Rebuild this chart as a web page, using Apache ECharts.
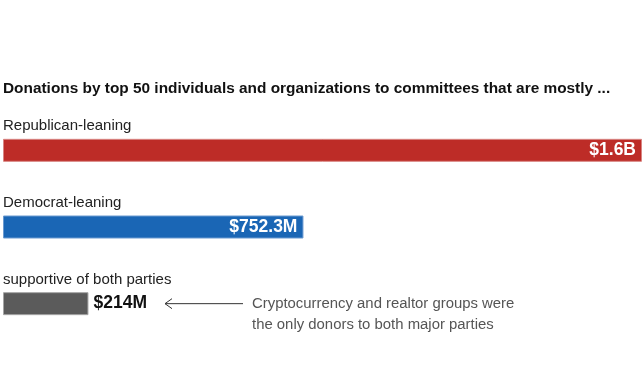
<!DOCTYPE html>
<html><head><meta charset="utf-8">
<script src="https://cdn.jsdelivr.net/npm/echarts@6/dist/echarts.min.js"></script>
<style>html,body{margin:0;padding:0;background:#fff}#c{width:644px;height:391px}</style>
</head><body><div id="c"></div>
<script>
const categories = ['Republican-leaning', 'Democrat-leaning', 'supportive of both parties'];
const values = [1600, 752.3, 214];
const valueLabels = ['$1.6B', '$752.3M', '$214M'];
const colors = ['#bd2c27', '#1a66b5', '#5b5b5b'];
const borderColors = ['#d98582', '#6b9ad0', '#a5a5a5'];
const title = 'Donations by top 50 individuals and organizations to committees that are mostly ...';
const noteLines = ['Cryptocurrency and realtor groups were', 'the only donors to both major parties'];

const FONT = '"Liberation Sans", Arial, sans-serif';
const chart = echarts.init(document.getElementById('c'), null, {renderer: 'canvas'});
const option = {
  animation: false,
  title: {text: title, left: 3, top: 81, padding: 0, textStyle: {fontFamily: FONT, fontSize: 15.4, fontWeight: 'bold', color: '#111'}},
  grid: {left: 3, right: 2, top: 112, bottom: 49, containLabel: false},
  xAxis: {type: 'value', min: 0, max: 1600, show: false},
  yAxis: {type: 'category', data: categories, inverse: true, show: false},
  series: [{
    type: 'bar', barWidth: 23,
    data: values.map((v, i) => ({value: v,
      itemStyle: {color: colors[i], borderColor: borderColors[i], borderWidth: 1},
      label: i < 2 ? {show: true, position: 'insideRight', distance: 6, color: '#fff', fontWeight: 'bold', fontSize: 17.5, fontFamily: FONT, formatter: valueLabels[i]}
                   : {show: true, position: 'right', distance: 5, color: '#111', fontWeight: 'bold', fontSize: 17.5, fontFamily: FONT, formatter: valueLabels[i]}
    }))
  }]
};
chart.setOption(option);
const graphics = [];
categories.forEach((c, i) => {
  const py = chart.convertToPixel({yAxisIndex: 0}, i);
  graphics.push({type: 'text', x: 3, y: py - 24, style: {text: c, fontFamily: FONT, fontSize: 15, fill: '#222', verticalAlign: 'middle'}});
});
const p = chart.convertToPixel({xAxisIndex: 0, yAxisIndex: 0}, [values[2], 2]);
const y = p[1];
const x0 = 165, x1 = 243;
graphics.push(
  {type: 'line', shape: {x1: x0, y1: y, x2: x1, y2: y}, style: {stroke: '#333', lineWidth: 1}},
  {type: 'polyline', shape: {points: [[x0 + 7, y - 5], [x0, y], [x0 + 7, y + 5]]}, style: {stroke: '#333', lineWidth: 1, fill: null}},
  {type: 'text', x: 252, y: y - 10, style: {text: noteLines.join('\n'), fontFamily: FONT, fontSize: 14.9, lineHeight: 21, fill: '#555'}}
);
chart.setOption({graphic: graphics});
</script></body></html>
